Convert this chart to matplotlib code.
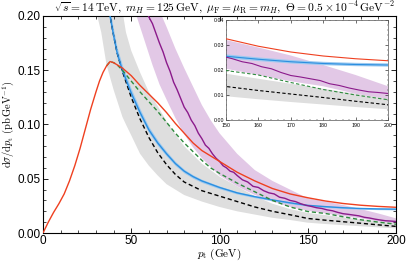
import matplotlib
matplotlib.use('Agg')
import matplotlib.pyplot as plt
from matplotlib.ticker import MultipleLocator, FormatStrFormatter

plt.rcParams['font.family'] = ['Liberation Sans', 'DejaVu Sans']
plt.rcParams['mathtext.fontset'] = 'cm'

# red (solid)
red_pt = [0, 3, 6, 9, 12, 15, 18, 21, 24, 27, 30, 32, 34, 36, 38, 40, 42, 45, 50, 55, 60, 65, 70,
          75, 80, 85, 90, 95, 100, 110, 120, 130, 140, 150, 160, 170, 180, 190, 200]
red_y = [0.0, 0.010, 0.019, 0.027, 0.036, 0.048, 0.062, 0.078, 0.096, 0.114, 0.130, 0.140, 0.148,
         0.154, 0.158, 0.157, 0.155, 0.152, 0.145, 0.136, 0.128, 0.120, 0.111, 0.101, 0.092, 0.083,
         0.076, 0.071, 0.066, 0.056, 0.048, 0.041, 0.036, 0.0325, 0.0295, 0.0272, 0.0256, 0.0245, 0.0237]

# green (dashed)
green_pt = [36, 38, 40, 42, 45, 50, 55, 60, 65, 70, 75, 80, 85, 90, 95, 100, 110, 120, 130, 140,
            150, 160, 170, 180, 190, 200]
green_y = [0.154, 0.158, 0.157, 0.155, 0.150, 0.140, 0.130, 0.121, 0.112, 0.102, 0.092, 0.083,
           0.075, 0.067, 0.060, 0.055, 0.046, 0.038, 0.030, 0.024, 0.0198, 0.0180, 0.0150,
           0.0122, 0.0100, 0.0081]

# blue (solid)
blue_pt = [37, 38, 40, 42, 45, 50, 55, 60, 65, 70, 75, 80, 85, 90, 100, 110, 120, 130, 140, 150,
           160, 170, 180, 190, 200]
blue_y = [0.210, 0.200, 0.182, 0.166, 0.150, 0.129, 0.111, 0.095, 0.083, 0.073, 0.064, 0.057,
          0.052, 0.048, 0.042, 0.037, 0.0335, 0.0305, 0.0278, 0.0255, 0.0243, 0.0233, 0.0226,
          0.0222, 0.0220]

# black (dashed)
black_pt = [37, 38, 40, 42, 45, 50, 55, 60, 65, 70, 75, 80, 90, 100, 110, 120, 130, 140, 150, 160,
            170, 180, 190, 200]
black_y = [0.210, 0.200, 0.182, 0.166, 0.149, 0.125, 0.105, 0.088, 0.074, 0.063, 0.054, 0.047,
           0.039, 0.034, 0.029, 0.024, 0.020, 0.0168, 0.0134, 0.0118, 0.0104, 0.0090, 0.0075, 0.0061]

# grey band around black
grey_pt = [29, 30, 33, 36, 40, 44, 45, 47, 50, 55, 60, 65, 70, 75, 80, 90, 100, 110, 120, 130, 140,
           150, 160, 170, 180, 190, 200]
grey_lo = [0.215, 0.205, 0.185, 0.155, 0.132, 0.112, 0.107, 0.100, 0.090, 0.073, 0.062, 0.053,
           0.045, 0.040, 0.035, 0.029, 0.024, 0.020, 0.017, 0.014, 0.012, 0.0095, 0.0083, 0.0072,
           0.0062, 0.0052, 0.0043]
grey_hi = [0.3, 0.3, 0.3, 0.3, 0.3, 0.21, 0.205, 0.185, 0.168, 0.148, 0.130, 0.117, 0.103, 0.091,
           0.080, 0.064, 0.052, 0.043, 0.034, 0.027, 0.022, 0.0185, 0.0165, 0.0145, 0.0125, 0.0105,
           0.0090]

# purple (solid, noisy)
purple_pt = [58, 60, 62, 64, 66, 68, 70, 72, 74, 76, 78, 80, 82, 84, 86, 88, 90, 92, 94, 96, 98,
             100, 102, 104, 106, 108, 110, 113, 116, 119, 122, 125, 128, 131, 134, 137, 140, 143,
             146, 149, 152, 155, 158, 161, 164, 167, 170, 173, 176, 179, 182, 185, 188, 191, 194,
             197, 200]
purple_y = [0.207, 0.199, 0.193, 0.184, 0.175, 0.167, 0.157, 0.149, 0.139, 0.132, 0.124, 0.116,
            0.111, 0.104, 0.099, 0.092, 0.087, 0.081, 0.078, 0.073, 0.069, 0.066, 0.062, 0.060,
            0.057, 0.056, 0.053, 0.049, 0.047, 0.043, 0.042, 0.039, 0.037, 0.036, 0.033, 0.032,
            0.030, 0.029, 0.027, 0.0255, 0.0245, 0.0233, 0.0226, 0.0213, 0.0205, 0.0190, 0.0178,
            0.0172, 0.0165, 0.0158, 0.0145, 0.0138, 0.0128, 0.0120, 0.0113, 0.0110, 0.0106]

# purple band
pband_pt = [52, 53, 58, 62, 66, 70, 75, 80, 85, 90, 95, 100, 110, 120, 130, 140, 150, 160, 170,
            180, 190, 200]
pband_lo = [0.21, 0.200, 0.175, 0.155, 0.137, 0.123, 0.106, 0.091, 0.079, 0.069, 0.061, 0.053,
            0.043, 0.035, 0.029, 0.024, 0.0205, 0.0180, 0.0155, 0.0135, 0.0105, 0.0085]
pband_hi = [0.3, 0.3, 0.3, 0.3, 0.205, 0.190, 0.170, 0.152, 0.135, 0.118, 0.104, 0.092, 0.073,
            0.058, 0.048, 0.040, 0.032, 0.0290, 0.0258, 0.0220, 0.0180, 0.0135]

RED = '#ef4020'
GREEN = '#2e8b3e'
BLUE = '#2b8fe0'
PURPLE = '#8b1a8b'


def draw(ax, lw):
    ax.fill_between(grey_pt, grey_lo, grey_hi, color='#dedede', lw=0, zorder=1)
    ax.fill_between(pband_pt, pband_lo, pband_hi, color='#e2c8e6', lw=0, zorder=1)
    ax.fill_between(blue_pt, [b * 0.97 for b in blue_y], [b * 1.03 for b in blue_y],
                    color='#9cc9f0', lw=0, zorder=2)
    ax.plot(black_pt, black_y, '--', color='black', lw=lw, dashes=(3, 2), zorder=3)
    ax.plot(blue_pt, blue_y, '-', color=BLUE, lw=lw, zorder=4)
    ax.plot(green_pt, green_y, '--', color=GREEN, lw=lw, dashes=(3, 2), zorder=4)
    ax.plot(purple_pt, purple_y, '-', color=PURPLE, lw=lw, zorder=4)
    ax.plot(red_pt, red_y, '-', color=RED, lw=lw, zorder=5)


fig = plt.figure(figsize=(4.07, 2.66), dpi=100)
ax = fig.add_axes([43 / 407, 33 / 266, 353 / 407, 217 / 266])
draw(ax, 1.0)
ax.set_xlim(0, 200)
ax.set_ylim(0, 0.2)
ax.xaxis.set_major_locator(MultipleLocator(50))
ax.xaxis.set_minor_locator(MultipleLocator(10))
ax.yaxis.set_major_locator(MultipleLocator(0.05))
ax.yaxis.set_minor_locator(MultipleLocator(0.01))
ax.yaxis.set_major_formatter(FormatStrFormatter('%.2f'))
ax.tick_params(which='both', direction='in', top=True, right=True, labelsize=8.5, pad=1.5)
ax.tick_params(which='major', length=3.5, width=0.6)
ax.tick_params(which='minor', length=2, width=0.5)
for s in ax.spines.values():
    s.set_linewidth(0.8)
ax.set_xlabel(r'$p_\mathrm{t}\ (\mathrm{GeV})$', fontsize=8, labelpad=0)
ax.set_ylabel(r'$\mathrm{d}\sigma/\mathrm{d}p_\mathrm{t}\ (\mathrm{pb\,GeV}^{-1})$', fontsize=7.5, labelpad=1)
ax.set_title(r'$\sqrt{s} = 14\,\mathrm{TeV},\ m_H = 125\,\mathrm{GeV},\ \mu_\mathrm{F} = \mu_\mathrm{R} = m_H,\ '
             r'\Theta = 0.5\times10^{-4}\,\mathrm{GeV}^{-2}$', fontsize=8.3, pad=2, x=0.515)

# inset
axi = fig.add_axes([226 / 407, 146 / 266, 162 / 407, 100 / 266])
draw(axi, 0.8)
axi.set_xlim(150, 200)
axi.set_ylim(0, 0.04)
axi.xaxis.set_major_locator(MultipleLocator(10))
axi.xaxis.set_minor_locator(MultipleLocator(2))
axi.yaxis.set_major_locator(MultipleLocator(0.01))
axi.yaxis.set_minor_locator(MultipleLocator(0.002))
axi.yaxis.set_major_formatter(FormatStrFormatter('%.2f'))
axi.tick_params(which='both', direction='in', top=True, right=True, labelsize=3.8)
axi.tick_params(axis='x', pad=2.2)
axi.tick_params(axis='y', pad=1.5)
axi.tick_params(which='major', length=2, width=0.4)
axi.tick_params(which='minor', length=1, width=0.3)
for s in axi.spines.values():
    s.set_linewidth(0.5)
    s.set_color('#555555')

fig.savefig('out.png', dpi=100)
